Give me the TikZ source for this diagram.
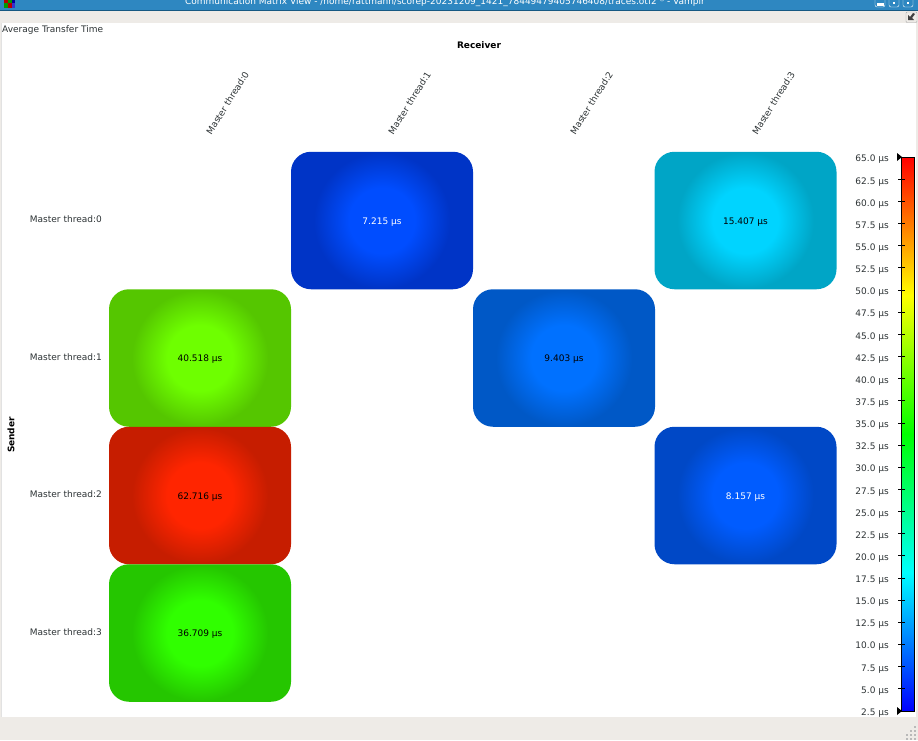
\documentclass[tikz,border=0pt]{standalone}
\usepackage{fontspec}
\setmainfont{DejaVu Sans}
\usetikzlibrary{positioning}
\definecolor{Chrome}{RGB}{238,235,231}
\definecolor{TitleBlue}{RGB}{46,135,193}
\definecolor{TitleEdge}{RGB}{22,88,130}
\definecolor{Ink}{RGB}{46,52,54}
\definecolor{Frame}{RGB}{226,226,226}
\pgfdeclareradialshading[glowin,glowout]{cellglow}{\pgfpointorigin}{color(0bp)=(glowin); color(24bp)=(glowin); color(50bp)=(glowout)}
\pgfdeclareverticalshading{scalebar}{100bp}{color(0bp)=(blue); color(25bp)=(blue); color(37.5bp)=(cyan); color(50bp)=(green); color(62.5bp)=(yellow); color(75bp)=(red); color(100bp)=(red)}

\begin{document}
\begin{tikzpicture}[x=1pt, y=-1pt,
    cell/.style 2 args={minimum width=182pt, minimum height=137.5pt, inner sep=0pt,
                rounded corners=20pt, fill={#2}, font=\fontsize{9}{10}\selectfont,
                text height=8pt, text depth=1pt,
                path picture={\colorlet{glowin}{#1}\colorlet{glowout}{#2}
                  \pgftext[at=\pgfpointanchor{path picture bounding box}{center}]{\scalebox{1.36}{\pgfuseshading{cellglow}}}}},
    lbl/.style={font=\fontsize{9}{10}\selectfont, color=Ink, inner sep=0pt},
    hdr/.style={font=\fontsize{9}{10}\selectfont\bfseries, color=black, inner sep=0pt},
    rowlbl/.style={lbl, anchor=east},
    collbl/.style={lbl, rotate=58}]
    \useasboundingbox (0,0) rectangle (918,740);
    % window chrome
    \fill[Chrome] (0,0) rectangle (918,740);
    \fill[white] (2,23) rectangle (916,717);
    \draw[Frame] (1.5,23) -- (1.5,717);
    \fill[TitleBlue] (0,0) rectangle (918,10);
    \fill[TitleEdge] (0,10) rectangle (918,11);
    \begin{scope}
      \clip (0,0) rectangle (918,10);
      \node[lbl, color=white] (title) at (445,2.5)
        {Communication Matrix View - /home/rattmann/scorep-20231209\_1421\_78449479405746408/traces.otf2 * - Vampir};
    \end{scope}
    \fill[red!70!black]   (4,0) rectangle (8,3);   \fill[green!60!black] (8,0) rectangle (12,3);
    \fill[blue!60!black]  (12,0) rectangle (15,3); \fill[green!60!black] (4,3) rectangle (8,8);
    \fill[red!70!black]   (8,3) rectangle (12,8);  \fill[blue!60!gray]   (12,3) rectangle (15,8);
    \foreach \bx in {875,889,903}
      \draw[white, rounded corners=2pt] (\bx,-3) rectangle +(10,10);
    \fill[white] (877,3) rectangle (884,5.5);
    \fill[white] (893,2) rectangle (895,4);
    \fill[white] (907,2) rectangle (909,4);
    \draw[gray!70, fill=Chrome, rounded corners=1pt] (906,12) rectangle (917,22.5);
    \fill[black!75] (915,14) -- (912,18) -- (914,20) -- (908,20) -- (908,15) -- (910,17) -- (913,13) -- cycle;
    \foreach \gx/\gy in {914/726,910/730,914/730,906/734,910/734,914/734,906/738,910/738,914/738}
      \fill[gray!55] (\gx,\gy) rectangle +(1.5,1.5);
    % captions
    \node[lbl, anchor=west] (caption) at (2,30) {Average Transfer Time};
    \node[hdr] (receiver) at (479,45) {Receiver};
    \node[hdr, rotate=90] (sender) at (11,435) {Sender};
    \node[collbl] (col0) at (227.5,103) {Master thread:0};
    \node[collbl] (col1) at (409.5,103) {Master thread:1};
    \node[collbl] (col2) at (591.5,103) {Master thread:2};
    \node[collbl] (col3) at (773.5,103) {Master thread:3};
    \node[rowlbl] (row0) at (102,219) {Master thread:0};
    \node[rowlbl] (row1) at (102,357) {Master thread:1};
    \node[rowlbl] (row2) at (102,494) {Master thread:2};
    \node[rowlbl] (row3) at (102,632) {Master thread:3};
    % matrix cells
    \node[cell={rgb,255:red,0;green,77;blue,255}{rgb,255:red,0;green,52;blue,198}, text=white] (c01) at (382,220.5) {7.215 µs};
    \node[cell={rgb,255:red,0;green,212;blue,255}{rgb,255:red,0;green,165;blue,198}] (c03) at (745.5,220.5) {15.407 µs};
    \node[cell={rgb,255:red,110;green,255;blue,0}{rgb,255:red,85;green,198;blue,0}] (c10) at (200,358) {40.518 µs};
    \node[cell={rgb,255:red,0;green,113;blue,255}{rgb,255:red,0;green,88;blue,198}] (c12) at (564,358) {9.403 µs};
    \node[cell={rgb,255:red,255;green,37;blue,0}{rgb,255:red,198;green,29;blue,0}] (c20) at (200,495.5) {62.716 µs};
    \node[cell={rgb,255:red,0;green,92;blue,255}{rgb,255:red,0;green,72;blue,198}, text=white] (c23) at (745.5,495.5) {8.157 µs};
    \node[cell={rgb,255:red,48;green,255;blue,0}{rgb,255:red,37;green,198;blue,0}] (c30) at (200,633) {36.709 µs};
    % colour scale
    \fill[black] (897,153) -- (902,157) -- (897,161) -- cycle;
    \fill[black] (897,707) -- (902,711) -- (897,715) -- cycle;
    \node[draw=black, line width=1pt, shading=scalebar, minimum width=13pt, minimum height=554pt, inner sep=0pt] (bar) at (908,434) {};
    \foreach \k in {1,...,24}
      \draw[black, line width=0.8pt] (898,157+22.16*\k) -- (905,157+22.16*\k);
    \foreach \k in {0,...,25}{
      \pgfmathsetmacro{\val}{65-2.5*\k}
      \node[lbl, anchor=east] (tick\k) at (889,159.5+22.14*\k) {\pgfkeys{/pgf/number format/.cd,fixed,fixed zerofill,precision=1,assume math mode=true}\pgfmathprintnumber{\val} µs};
    }
\end{tikzpicture}
\end{document}
